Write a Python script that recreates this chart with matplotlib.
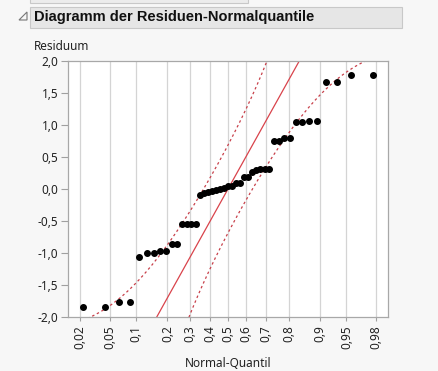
from statistics import NormalDist
import matplotlib
matplotlib.use("Agg")
import matplotlib.pyplot as plt
from matplotlib.patches import Rectangle, Polygon

# sorted residuals
residuals = [-1.84, -1.84, -1.76, -1.76, -1.07, -0.995, -0.995, -0.965, -0.965,
             -0.865, -0.865, -0.54, -0.54, -0.54, -0.54,
             -0.09, -0.06, -0.05, -0.03, -0.02, 0.00, 0.01, 0.04, 0.04,
             0.10, 0.10, 0.19, 0.19, 0.26, 0.29, 0.31, 0.31, 0.31,
             0.755, 0.755, 0.797, 0.797, 1.047, 1.047, 1.067, 1.067,
             1.67, 1.67, 1.78, 1.78]
prob_ticks = [0.02, 0.05, 0.1, 0.2, 0.3, 0.4, 0.5, 0.6, 0.7, 0.8, 0.9, 0.95, 0.98]
prob_labels = ["0,02", "0,05", "0,1", "0,2", "0,3", "0,4", "0,5", "0,6", "0,7",
               "0,8", "0,9", "0,95", "0,98"]
y_ticks = [2.0, 1.5, 1.0, 0.5, 0.0, -0.5, -1.0, -1.5, -2.0]
y_labels = ["2,0", "1,5", "1,0", "0,5", "0,0", "-0,5", "-1,0", "-1,5", "-2,0"]
line_mean = 0.0
line_slope = 2.02
band_d = 0.133

nd = NormalDist()
n = len(residuals)
zq = [nd.inv_cdf((i + 1) / (n + 1)) for i in range(n)]

plt.rcParams['font.family'] = ['Noto Sans', 'DejaVu Sans']
bg = '#f7f7f7'
fig = plt.figure(figsize=(4.38, 3.71), dpi=100, facecolor=bg)
W, H = 438, 371

def fx(px):
    return px / W

def fy(py):
    return 1 - py / H

# header panels
fig.patches.append(Rectangle((fx(30), fy(3)), fx(218), 6 / H, transform=fig.transFigure,
                             facecolor='#ececec', edgecolor='#c8c8c8', lw=0.8))
fig.patches.append(Rectangle((fx(30), fy(28)), fx(372), 21 / H, transform=fig.transFigure,
                             facecolor='#e6e6e6', edgecolor='#c8c8c8', lw=0.8))
fig.patches.append(Polygon([(fx(27), fy(12)), (fx(27), fy(20)), (fx(19), fy(20))], closed=True,
                           transform=fig.transFigure, facecolor='none', edgecolor='#777777', lw=0.8))
fig.text(fx(34), fy(17.5), "Diagramm der Residuen-Normalquantile", fontsize=10.5,
         fontweight='bold', family=['Liberation Sans', 'DejaVu Sans'],
         va='center', ha='left', color='#111111')
fig.text(fx(34), fy(46), "Residuum", fontsize=8.5, va='center', ha='left', color='#222222')

ax = fig.add_axes([fx(68), fy(317), fx(320), 256 / H])
ax.set_facecolor('white')

zt = [nd.inv_cdf(p) for p in prob_ticks]
for z in zt:
    ax.axvline(z, color='#d4d4d4', lw=0.9, zorder=0)

# reference line and confidence bands
zz = [-2.3 + i * 0.005 for i in range(921)]
ax.plot(zz, [line_mean + line_slope * z for z in zz], color='#d9434b', lw=0.9, zorder=2)
up_x, up_y, lo_x, lo_y = [], [], [], []
for z in zz:
    p = nd.cdf(z)
    if p + band_d < 1:
        up_x.append(z)
        up_y.append(line_mean + line_slope * nd.inv_cdf(p + band_d))
    if p - band_d > 0:
        lo_x.append(z)
        lo_y.append(line_mean + line_slope * nd.inv_cdf(p - band_d))
ax.plot(up_x, up_y, color='#c8404a', lw=0.9, ls=(0, (2, 2.2)), zorder=2)
ax.plot(lo_x, lo_y, color='#c8404a', lw=0.9, ls=(0, (2, 2.2)), zorder=2)

ax.plot(zq, residuals, 'o', color='black', ms=4, zorder=3)

ax.set_xlim(-2.223, 2.223)
ax.set_ylim(-2.0, 2.0)
ax.set_xticks(zt)
ax.set_xticklabels(prob_labels, rotation=90, fontsize=8.5, color='#222222')
ax.set_yticks(y_ticks)
ax.set_yticklabels(y_labels, fontsize=8.5, color='#222222')
ax.tick_params(axis='x', length=3, color='#a0a0a0', pad=3)
ax.tick_params(axis='y', length=5, color='#a0a0a0', pad=2)
for s in ax.spines.values():
    s.set_color('#a8a8a8')
    s.set_linewidth(0.9)
ax.set_xlabel("Normal-Quantil", fontsize=8.5, color='#222222', labelpad=6)

fig.savefig("out.png", dpi=100, facecolor=bg)
